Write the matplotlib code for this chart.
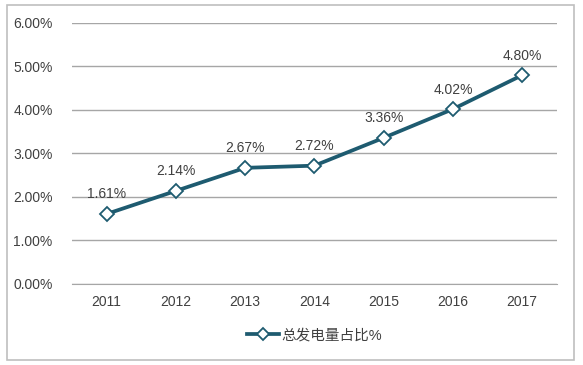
import matplotlib
matplotlib.use("Agg")
import matplotlib.pyplot as plt
from matplotlib.patches import Rectangle

plt.rcParams['font.family'] = ['Liberation Sans', 'Noto Sans CJK SC', 'DejaVu Sans']

years = ["2011", "2012", "2013", "2014", "2015", "2016", "2017"]
share = [1.61, 2.14, 2.67, 2.72, 3.36, 4.02, 4.80]
series_name = "总发电量占比%"

LINE = "#1E5B70"
TEXT = "#404040"
GRID = "#A6A6A6"

fig = plt.figure(figsize=(5.83, 3.65), dpi=100)
fig.patches.append(Rectangle((0.012, 0.014), 0.972, 0.972, transform=fig.transFigure,
                             fill=False, edgecolor="#BFBFBF", lw=1.2))
ax = fig.add_axes([0.1235, 0.222, 0.8315, 0.715])

xs = list(range(len(years)))
ax.plot(xs, share, color=LINE, lw=2.7, marker="D", markersize=7.5,
        markerfacecolor="white", markeredgecolor=LINE, markeredgewidth=1.3,
        label=series_name, zorder=3)
for x, y in zip(xs, share):
    ax.annotate(f"{y:.2f}%", (x, y), xytext=(0, 9), textcoords="offset points",
                ha="center", va="bottom", fontsize=10, color=TEXT)

ax.set_xlim(-0.5, len(years) - 0.5)
ax.set_ylim(0, 6)
ax.set_yticks([0, 1, 2, 3, 4, 5, 6])
ax.set_yticklabels([f"{v:.2f}%" for v in range(7)])
ax.set_xticks(xs)
ax.set_xticklabels(years)
ax.tick_params(length=0, labelsize=10, labelcolor=TEXT)
ax.tick_params(axis="y", pad=14)
ax.tick_params(axis="x", pad=8)
ax.grid(axis="y", color=GRID, lw=1)
ax.set_axisbelow(True)
for s in ["top", "right", "left"]:
    ax.spines[s].set_visible(False)
ax.spines["bottom"].set_color(GRID)

ax.legend(loc="upper center", bbox_to_anchor=(0.5, -0.12), frameon=False,
          fontsize=10.5, handlelength=2.2, handletextpad=0.2, labelcolor=TEXT,
          markerscale=0.8)

fig.savefig("out.png", dpi=100)
